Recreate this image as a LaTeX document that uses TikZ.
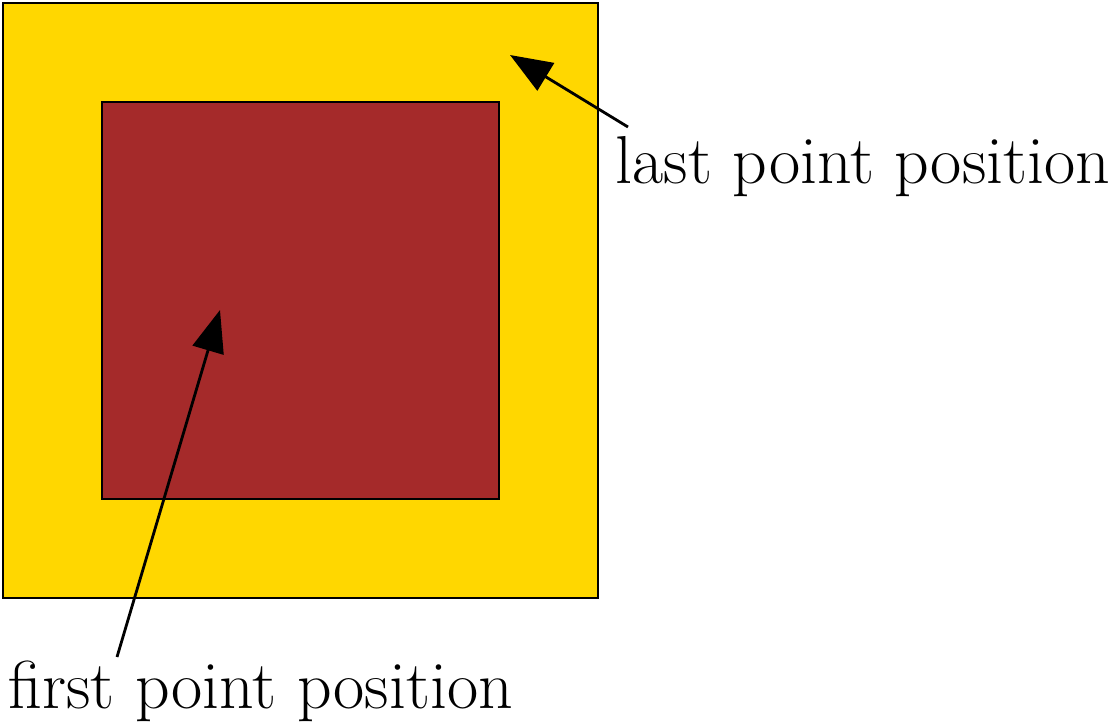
\documentclass[tikz,border=0pt]{standalone}
\usepackage{xcolor}
\usepackage{tikz}
\usetikzlibrary{arrows.meta, positioning}

\definecolor{vangkim}{RGB}{255,215,0}
\definecolor{naudo}{RGB}{165,42,42}

\begin{document}
\begin{tikzpicture}[>={Triangle[length=4.2mm, width=3.2mm]},
    khung/.style={draw=black, line width=0.6pt},
    nhan/.style={inner sep=0pt, anchor=base west, font=\fontsize{19.3}{23}\selectfont},
    muiten/.style={->, line width=0.8pt}]
    % Khung giới hạn của hình
    \useasboundingbox (0,0) rectangle (11.12,7.21);
    
    % Hình vuông ngoài và hình vuông trong
    \filldraw[khung, fill=vangkim] (0.03,1.23) rectangle (5.98,7.18);
    \filldraw[khung, fill=naudo] (1.02,2.22) rectangle (4.99,6.19);
    
    % Các nhãn chú thích
    \node[nhan] (cuoi) at (6.15,5.38) {last point position};
    \node[nhan] (dau) at (0.08,0.13) {first point position};
    
    % Điểm đầu và điểm cuối của các mũi tên
    \coordinate (goccuoi) at (6.28,5.94);
    \coordinate (dinhcuoi) at (5.10,6.66);
    \coordinate (gocdau) at (1.17,0.64);
    \coordinate (dinhdau) at (2.20,4.11);
    \draw[muiten] (goccuoi) -- (dinhcuoi);
    \draw[muiten] (gocdau) -- (dinhdau);
\end{tikzpicture}
\end{document}
